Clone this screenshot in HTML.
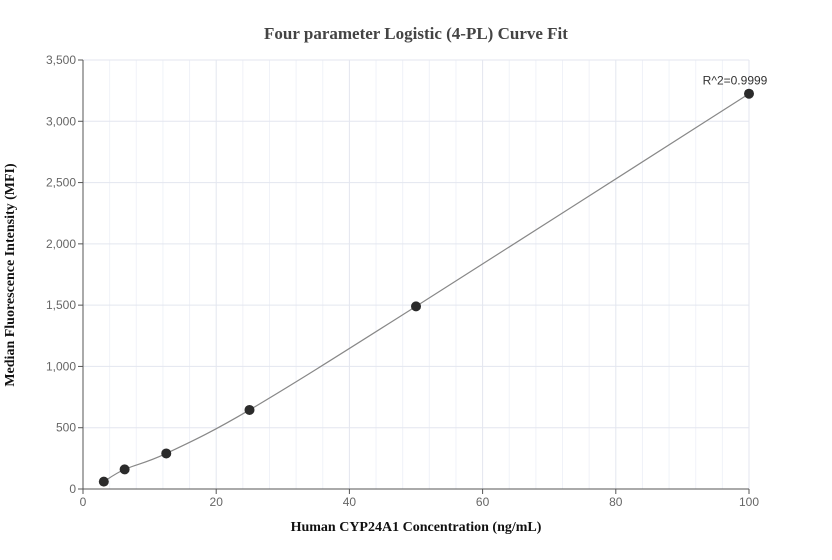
<!DOCTYPE html>
<html><head><meta charset="utf-8"><style>
body{margin:0;background:#fff;}
svg{display:block;font-family:"Liberation Sans",sans-serif;}
</style></head><body>
<svg id="c" width="832" height="560">
<text x="416" y="39" text-anchor="middle" font-family="Liberation Serif" font-weight="bold" font-size="17" fill="#444">Four parameter Logistic (4-PL) Curve Fit</text>
<text x="416" y="531" text-anchor="middle" font-family="Liberation Serif" font-weight="bold" font-size="14" fill="#111">Human CYP24A1 Concentration (ng/mL)</text>
<text transform="translate(14,275) rotate(-90)" text-anchor="middle" font-family="Liberation Serif" font-weight="bold" font-size="14" fill="#111">Median Fluorescence Intensity (MFI)</text>
<g id="grid"></g><g id="axes"></g><g id="marks"></g>
</svg>
<script>
const xs=[3.125,6.25,12.5,25,50,100];
const ys=[60,160,290,645,1490,3225];
const xTicks=[0,20,40,60,80,100];
const yTicks=[0,500,1000,1500,2000,2500,3000,3500];
const rLabel="R^2=0.9999";
const X0=83,X1=749,Y0=489,Y1=60;
const sx=v=>X0+(v/100)*(X1-X0), sy=v=>Y0-(v/3500)*(Y0-Y1);
const NS="http://www.w3.org/2000/svg";
function mk(t,a,p){const e=document.createElementNS(NS,t);for(const k in a)e.setAttribute(k,a[k]);p.appendChild(e);return e;}
const g=document.getElementById('grid'),ax=document.getElementById('axes'),m=document.getElementById('marks');
for(let v=0;v<=100;v+=4){const l=mk('line',{x1:sx(v),x2:sx(v),y1:Y1,y2:Y0,stroke:v%20?'#f0f2f8':'#e3e6ef'},g);

}
for(let v=0;v<=3500;v+=500){const l=mk('line',{x1:X0,x2:X1,y1:sy(v),y2:sy(v),stroke:'#e3e6ef'},g);

}
let a=mk('line',{x1:X0,x2:X0,y1:Y1,y2:Y0,stroke:'#555'},ax);


a=mk('line',{x1:X0,x2:X1,y1:Y0,y2:Y0,stroke:'#555'},ax);


xTicks.forEach(v=>{mk('line',{x1:sx(v),x2:sx(v),y1:Y0,y2:Y0+5,stroke:'#555'},ax);
const t=mk('text',{x:sx(v),y:Y0+17,'text-anchor':'middle','font-size':12,fill:'#666'},ax);t.textContent=v;

});
yTicks.forEach(v=>{mk('line',{x1:X0-5,x2:X0,y1:sy(v),y2:sy(v),stroke:'#555'},ax);
const t=mk('text',{x:X0-7,y:sy(v)+4,'text-anchor':'end','font-size':12,fill:'#666'},ax);t.textContent=v.toLocaleString('en-US');

});
const P=xs.map((x,i)=>[sx(x),sy(ys[i])]);
let d='M'+P[0][0]+','+P[0][1];
for(let i=0;i<P.length-1;i++){const p0=P[Math.max(0,i-1)],p1=P[i],p2=P[i+1],p3=P[Math.min(P.length-1,i+2)];
d+=' C'+(p1[0]+(p2[0]-p0[0])/6)+','+(p1[1]+(p2[1]-p0[1])/6)+' '+(p2[0]-(p3[0]-p1[0])/6)+','+(p2[1]-(p3[1]-p1[1])/6)+' '+p2[0]+','+p2[1];}
const c=mk('path',{d:d,fill:'none',stroke:'#888','stroke-width':1.2},m);


P.forEach(p=>{const e=mk('circle',{cx:p[0],cy:p[1],r:5,fill:'#2b2b2b'},m);

});
const r=mk('text',{x:P[P.length-1][0]-14,y:P[P.length-1][1]-9,'text-anchor':'middle','font-size':12,fill:'#333'},m);r.textContent=rLabel;


</script>
</body></html>
